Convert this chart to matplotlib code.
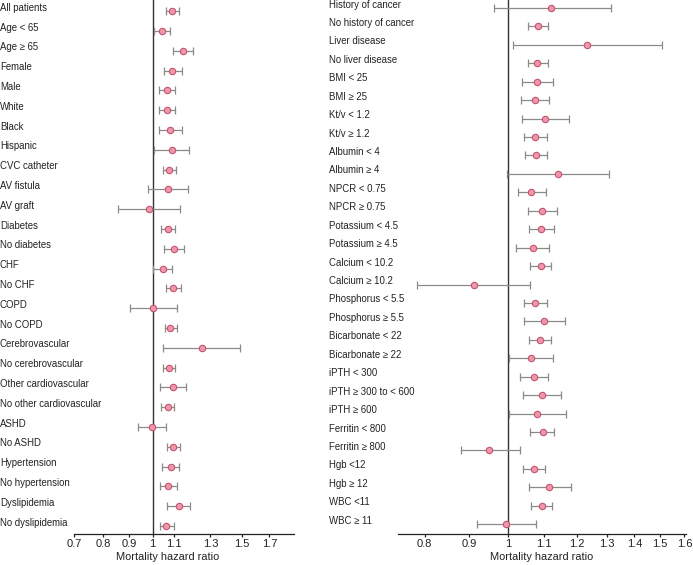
import matplotlib
matplotlib.use("Agg")
import matplotlib.pyplot as plt
from matplotlib.ticker import FixedLocator, FixedFormatter, NullLocator
from matplotlib.transforms import blended_transform_factory, ScaledTranslation

plt.rcParams['font.family'] = ['Liberation Sans', 'DejaVu Sans']

left_labels = ["All patients", "Age < 65", "Age \u2265 65", "Female", "Male", "White", "Black",
               "Hispanic", "CVC catheter", "AV fistula", "AV graft", "Diabetes", "No diabetes",
               "CHF", "No CHF", "COPD", "No COPD", "Cerebrovascular", "No cerebrovascular",
               "Other cardiovascular", "No other cardiovascular", "ASHD", "No ASHD",
               "Hypertension", "No hypertension", "Dyslipidemia", "No dyslipidemia"]
left_hr = [1.091, 1.044, 1.148, 1.094, 1.068, 1.066, 1.082, 1.091, 1.079, 1.071, 0.984,
           1.071, 1.101, 1.047, 1.099, 1.004, 1.084, 1.249, 1.079, 1.096, 1.073, 0.996,
           1.099, 1.086, 1.074, 1.126, 1.063]
left_lo = [1.062, 1.008, 1.099, 1.055, 1.031, 1.031, 1.031, 1.008, 1.050, 0.978, 0.853,
           1.038, 1.055, 1.002, 1.065, 0.904, 1.058, 1.050, 1.050, 1.036, 1.041, 0.938,
           1.069, 1.045, 1.036, 1.069, 1.033]
left_hi = [1.126, 1.081, 1.203, 1.141, 1.109, 1.109, 1.141, 1.181, 1.114, 1.176, 1.134,
           1.107, 1.153, 1.092, 1.137, 1.119, 1.119, 1.486, 1.107, 1.164, 1.102, 1.063,
           1.134, 1.129, 1.117, 1.185, 1.102]

right_labels = ["History of cancer", "No history of cancer", "Liver disease", "No liver disease",
                "BMI < 25", "BMI \u2265 25", "Kt/v < 1.2", "Kt/v \u2265 1.2", "Albumin < 4",
                "Albumin \u2265 4", "NPCR < 0.75", "NPCR \u2265 0.75", "Potassium < 4.5",
                "Potassium \u2265 4.5", "Calcium < 10.2", "Calcium \u2265 10.2",
                "Phosphorus < 5.5", "Phosphorus \u2265 5.5", "Bicarbonate < 22",
                "Bicarbonate \u2265 22", "iPTH < 300", "iPTH \u2265 300 to < 600",
                "iPTH \u2265 600", "Ferritin < 800", "Ferritin \u2265 800", "Hgb <12",
                "Hgb \u2265 12", "WBC <11", "WBC \u2265 11"]
right_hr = [1.122, 1.082, 1.235, 1.080, 1.080, 1.075, 1.104, 1.074, 1.076, 1.142,
            1.062, 1.095, 1.092, 1.067, 1.090, 0.912, 1.075, 1.099, 1.088, 1.062,
            1.071, 1.095, 1.080, 1.098, 0.951, 1.071, 1.116, 1.093, 0.995]
right_lo = [0.962, 1.054, 1.014, 1.053, 1.038, 1.035, 1.038, 1.042, 1.047, 0.997,
            1.025, 1.054, 1.056, 1.022, 1.061, 0.784, 1.042, 1.042, 1.056, 1.003,
            1.033, 1.041, 1.003, 1.060, 0.881, 1.040, 1.058, 1.063, 0.921]
right_hi = [1.314, 1.113, 1.509, 1.111, 1.128, 1.115, 1.175, 1.108, 1.108, 1.307,
            1.105, 1.140, 1.131, 1.115, 1.121, 1.061, 1.109, 1.162, 1.122, 1.128,
            1.111, 1.150, 1.168, 1.131, 1.031, 1.104, 1.181, 1.124, 1.078]

left_ticks = [0.7, 0.8, 0.9, 1, 1.1, 1.3, 1.5, 1.7]
left_ticklabels = ["0.7", "0.8", "0.9", "1", "1.1", "1.3", "1.5", "1.7"]
right_ticks = [0.8, 0.9, 1, 1.1, 1.2, 1.3, 1.4, 1.5, 1.6]
right_ticklabels = ["0.8", "0.9", "1", "1.1", "1.2", "1.3", "1.4", "1.5", "1.6"]

W, H = 693, 565
fig = plt.figure(figsize=(W / 100, H / 100), dpi=100)

face = "#ee97aa"
edge = "#c4546f"
ecol = "#8a8a8a"
AXB = 534  # pixel row of the x-axis line, from top
LAB_Y = -23 / AXB  # x-label centre, in axes fraction


def panel(rect, labels, hr, lo, hi, xlim, ylim, ticks, ticklabels, label_x, xlab_pos):
    ax = fig.add_axes(rect)
    ys = list(range(len(labels)))
    xerr = [[h - l for h, l in zip(hr, lo)], [u - h for h, u in zip(hr, hi)]]
    ax.axvline(1, color="#333333", lw=1.0, zorder=1)
    ax.errorbar(hr, ys, xerr=xerr, fmt="none", ecolor=ecol, elinewidth=0.9,
                capsize=2.6, capthick=0.9, zorder=2)
    ax.plot(hr, ys, "o", ms=4.6, mfc=face, mec=edge, mew=0.8, zorder=3, ls="none")
    ax.set_xscale("log")
    ax.set_xlim(*xlim)
    ax.set_ylim(*ylim)
    ax.xaxis.set_major_locator(FixedLocator(ticks))
    ax.xaxis.set_major_formatter(FixedFormatter(ticklabels))
    ax.xaxis.set_minor_locator(NullLocator())
    ax.set_yticks([])
    for s in ["top", "right", "left"]:
        ax.spines[s].set_visible(False)
    ax.spines["bottom"].set_color("#222222")
    ax.spines["bottom"].set_linewidth(0.9)
    ax.tick_params(axis="x", length=2.5, width=0.9, color="#222222", labelsize=8.0,
                   pad=1.0, labelcolor="#222222")
    ax.set_xlabel("Mortality hazard ratio", fontsize=7.9, color="#222222", va="center")
    ax.xaxis.set_label_coords(xlab_pos, LAB_Y)
    tr = blended_transform_factory(fig.transFigure, ax.transData) + \
        ScaledTranslation(0, 3.5 / 100, fig.dpi_scale_trans)
    for y, lab in zip(ys, labels):
        ax.text(label_x, y, lab, transform=tr, ha="left", va="center", fontsize=6.9,
                color="#222222")
    return ax


panel([74 / W, (H - AXB) / H, 220 / W, AXB / H], left_labels, left_hr, left_lo, left_hi,
      (0.7, 1.9), (26.4, -0.57), left_ticks, left_ticklabels, 0.0, (168 - 74) / 220)
panel([398 / W, (H - AXB) / H, 288 / W, AXB / H], right_labels, right_hr, right_lo, right_hi,
      (0.745, 1.607), (28.53, -0.434), right_ticks, right_ticklabels, 329 / W, 0.5)

fig.savefig("out.png", dpi=100)
